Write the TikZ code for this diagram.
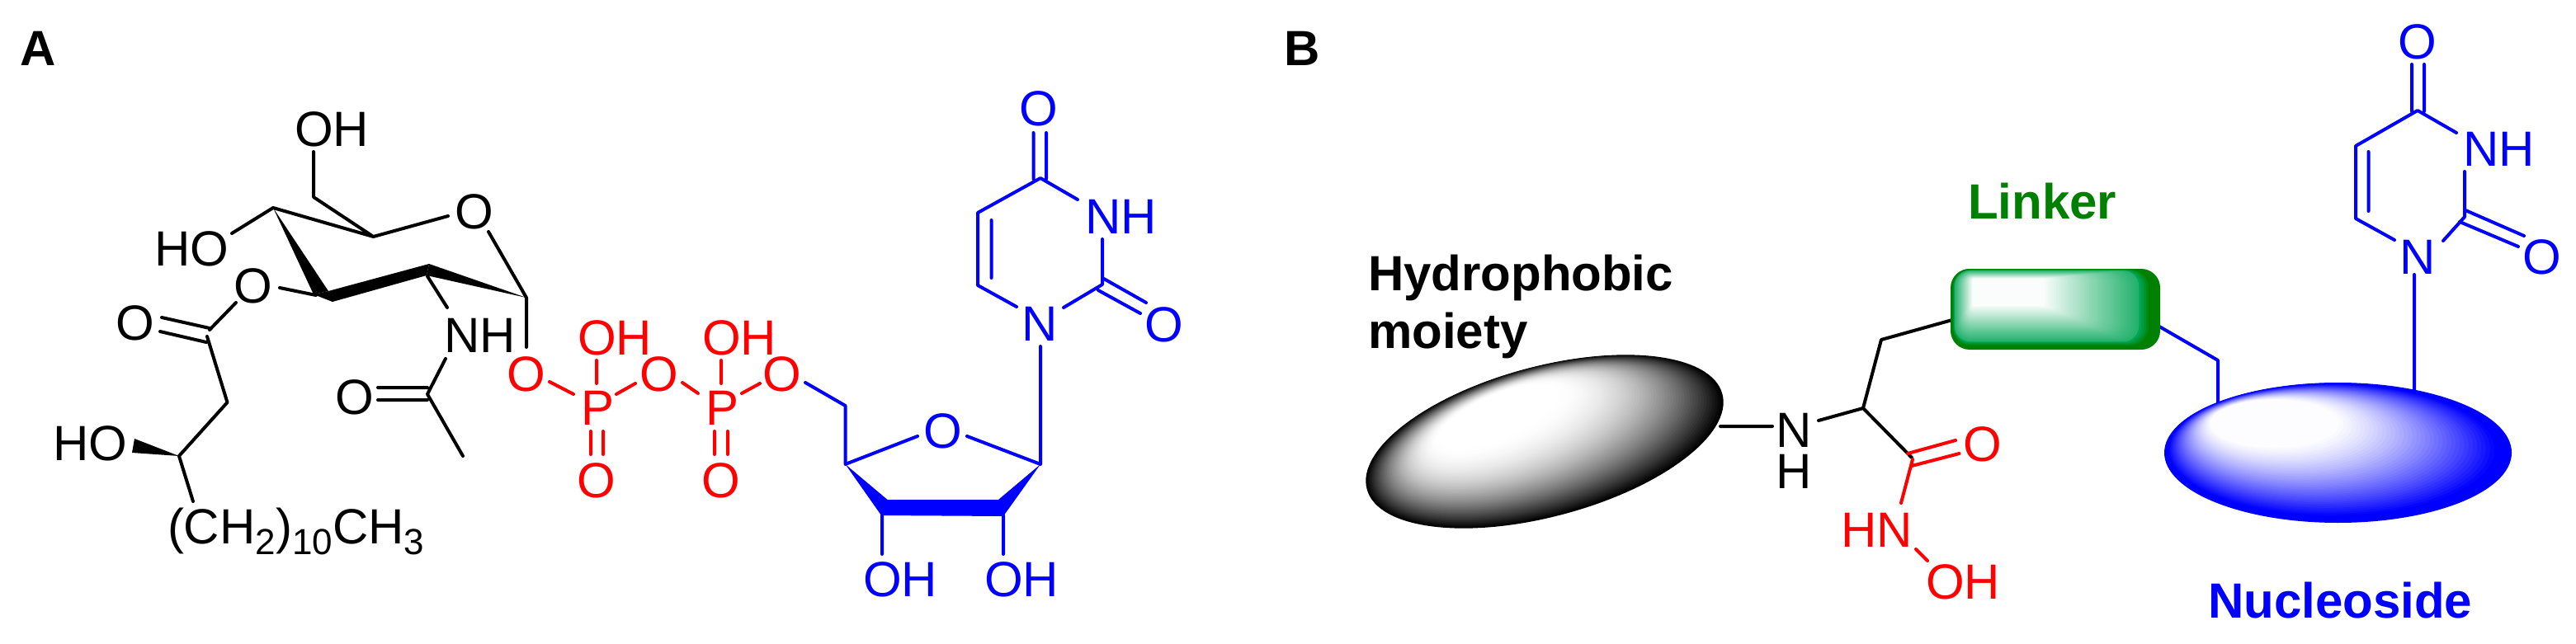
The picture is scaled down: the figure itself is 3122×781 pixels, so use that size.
\documentclass[tikz,border=0pt]{standalone}
\usepackage{fontspec}
\setmainfont{Liberation Sans}
\definecolor{chred}{RGB}{255,0,0}
\definecolor{chblue}{RGB}{0,0,255}
\definecolor{chgreen}{RGB}{0,128,0}
\definecolor{chgreenb}{RGB}{0,165,85}
\newcommand{\subs}[1]{\raisebox{-13pt}{\fontsize{44}{44}\selectfont #1}}
\tikzset{
  atom/.style={inner sep=0pt,outer sep=0pt,anchor=base,font=\fontsize{60}{60}\selectfont},
  atomw/.style={atom,anchor=base west},
  atome/.style={atom,anchor=base east},
  tag/.style={inner sep=0pt,outer sep=0pt,anchor=base west,font=\fontsize{60}{70}\selectfont\bfseries,align=left},
  bond/.style={line width=4pt,line cap=round,line join=round},
}
\begin{document}
\begin{tikzpicture}[x=1pt,y=-1pt]
\useasboundingbox (0,0) rectangle (3122,781);
% ---------- panel labels
\node[tag] (lblA) at (24,80) {A};
\node[tag] (lblB) at (1556,80) {B};
% ---------- A: sugar, black
\coordinate (a1) at (380,184); \coordinate (a2) at (380,239); \coordinate (c5) at (452.5,287);
\coordinate (c4) at (331,252); \coordinate (a3) at (543,262); \coordinate (a4) at (592,281);
\coordinate (c1) at (638,361); \coordinate (a5) at (281,283); \coordinate (a6) at (339,349);
\coordinate (a7) at (383,358); \coordinate (a8) at (286,367); \coordinate (a9) at (254,400);
\coordinate (a10) at (196,385); \coordinate (a11) at (254,398); \coordinate (a12) at (194,402);
\coordinate (a13) at (250,415); \coordinate (a14) at (251,408); \coordinate (a15) at (275.5,488);
\coordinate (a16) at (217,553); \coordinate (a17) at (234,608); \coordinate (a18) at (163,532);
\coordinate (a19) at (160,549); \coordinate (c2a) at (520,320); \coordinate (c2b) at (517,334);
\coordinate (c3a) at (398,353); \coordinate (c3b) at (403,366); \coordinate (c3c) at (380,357);
\coordinate (a20) at (518,335); \coordinate (a21) at (542,373); \coordinate (a22) at (638,421);
\coordinate (a23) at (540,435); \coordinate (a24) at (518,478); \coordinate (a25) at (561,553);
\coordinate (a26) at (458,470); \coordinate (a27) at (518,470); \coordinate (a28) at (458,485);
\coordinate (a29) at (518,485);
\node[atomw] (oh6) at (357,177) {OH};
\node[atom] (o5) at (575,277) {O};
\node[atome] (ho4) at (277,322) {HO};
\node[atom] (o3) at (307,367) {O};
\node[atom] (oc) at (164,412) {O};
\node[atome] (ho3) at (154,558) {HO};
\node[atomw] (chain) at (203,659) {(CH\subs{2})\subs{10}CH\subs{3}};
\node[atomw] (nh) at (538,427) {NH};
\node[atom] (oac) at (430,502) {O};
\draw[bond] (a1)--(a2)--(c5)--(a3) (a4)--(c1) (c4)--(c5) (a5)--(c4) (a6)--(a7) (a8)--(a9)
  (a10)--(a11) (a12)--(a13) (a14)--(a15)--(a16)--(a17) (a20)--(a21) (c1)--(a22)
  (a23)--(a24)--(a25) (a26)--(a27) (a28)--(a29);
\fill (c4)--(c3c)--(c3a)--cycle;
\fill (c3a)--(c2a)--(c2b)--(c3b)--(c3c)--cycle;
\fill (c1)--(c2a)--(c2b)--cycle;
\fill (a16)--(a18)--(a19)--cycle;
% ---------- A: phosphates, red
\begin{scope}[color=chred]
\coordinate (p1) at (723,437); \coordinate (p2) at (723,465); \coordinate (p3) at (666,463);
\coordinate (p4) at (695,478); \coordinate (p5) at (747,478); \coordinate (p6) at (770,465);
\coordinate (p7) at (716,523); \coordinate (p8) at (716,551); \coordinate (p9) at (731,523);
\coordinate (p10) at (731,551);
\coordinate (q1) at (874,437); \coordinate (q2) at (874,465); \coordinate (q3) at (827,464);
\coordinate (q4) at (846,477); \coordinate (q5) at (899,477); \coordinate (q6) at (921,465);
\coordinate (q7) at (866,523); \coordinate (q8) at (866,551); \coordinate (q9) at (882,523);
\coordinate (q10) at (882,551);
\node[atom,text=chred] (op1) at (638,474) {O};
\node[atomw,text=chred] (oh1) at (700,430) {OH};
\node[atom,text=chred] (pa) at (725,515) {P};
\node[atom,text=chred] (opb) at (799,474) {O};
\node[atom,text=chred] (oeq1) at (723,603) {O};
\node[atomw,text=chred] (oh2) at (851,430) {OH};
\node[atom,text=chred] (pb) at (875,515) {P};
\node[atom,text=chred] (op2) at (948,474) {O};
\node[atom,text=chred] (oeq2) at (874,603) {O};
\draw[bond,chred] (p1)--(p2) (p3)--(p4) (p5)--(p6) (p7)--(p8) (p9)--(p10)
  (q1)--(q2) (q3)--(q4) (q5)--(q6) (q7)--(q8) (q9)--(q10);
\end{scope}
% ---------- A: uridine, blue
\coordinate (r1) at (976,464); \coordinate (r2) at (1024.5,492); \coordinate (r3) at (1024.5,563);
\coordinate (r4) at (1112,529); \coordinate (r5) at (1172,529); \coordinate (r6) at (1261,563);
\coordinate (r7) at (1261,420); \coordinate (r8) at (1075.5,606); \coordinate (r9) at (1068,625);
\coordinate (r10) at (1210,606); \coordinate (r11) at (1216,626); \coordinate (r12) at (1069,625);
\coordinate (r13) at (1069,672); \coordinate (r14) at (1216,625); \coordinate (r15) at (1216,672);
\coordinate (u1) at (1252.5,161); \coordinate (u2) at (1252.5,217); \coordinate (u3) at (1268,161);
\coordinate (u4) at (1268,217); \coordinate (u5) at (1261,216); \coordinate (u6) at (1185,258);
\coordinate (u7) at (1185,346); \coordinate (u8) at (1201.5,267); \coordinate (u9) at (1201.5,337);
\coordinate (u10) at (1232,372); \coordinate (u11) at (1306,242); \coordinate (u12) at (1336,290);
\coordinate (u13) at (1336,345); \coordinate (u14) at (1289,373); \coordinate (u15) at (1336,337);
\coordinate (u16) at (1389,367); \coordinate (u17) at (1331,352); \coordinate (u18) at (1382,380);
\node[atom,text=chblue] (or) at (1143,543) {O};
\node[atomw,text=chblue] (ohl) at (1046,723) {OH};
\node[atomw,text=chblue] (ohr) at (1193,723) {OH};
\node[atom,text=chblue] (ou4) at (1259,153) {O};
\node[atomw,text=chblue] (nu3) at (1315,283) {NH};
\node[atom,text=chblue] (ou2) at (1411,414) {O};
\node[atom,text=chblue] (nu1) at (1260,413) {N};
\draw[bond,chblue] (r1)--(r2)--(r3)--(r4) (r5)--(r6)--(r7) (r12)--(r13) (r14)--(r15)
  (u1)--(u2) (u3)--(u4) (u11)--(u5)--(u6)--(u7)--(u10) (u8)--(u9) (u12)--(u13)--(u14)
  (u15)--(u16) (u17)--(u18);
\fill[chblue] (r3)--(r8)--(r10)--(r6)--(r11)--(r9)--cycle;
% ---------- B: connectors
\coordinate (b1) at (2085,517); \coordinate (b2) at (2148,517); \coordinate (b3) at (2204,510);
\coordinate (b4) at (2258,495); \coordinate (b5) at (2280,412); \coordinate (b6) at (2366,388);
\coordinate (b7) at (2317,555); \coordinate (b8) at (2312,550); \coordinate (b9) at (2370,534);
\coordinate (b10) at (2317,565); \coordinate (b11) at (2374.5,550); \coordinate (b12) at (2318,557);
\coordinate (b13) at (2304,610); \coordinate (b14) at (2322,666); \coordinate (b15) at (2336,680);
\coordinate (b16) at (2617,396); \coordinate (b17) at (2688,437); \coordinate (b18) at (2688,490);
\coordinate (b19) at (2926,333); \coordinate (b20) at (2926,476);
\coordinate (v1) at (2923,78); \coordinate (v2) at (2923,135); \coordinate (v3) at (2938,78);
\coordinate (v4) at (2938,135); \coordinate (v5) at (2930,134); \coordinate (v6) at (2855,177);
\coordinate (v7) at (2855,265); \coordinate (v8) at (2870.5,184); \coordinate (v9) at (2870.5,256);
\coordinate (v10) at (2902,291); \coordinate (v11) at (2977,161); \coordinate (v12) at (2987,208);
\coordinate (v13) at (2987,263); \coordinate (v14) at (2961,292); \coordinate (v15) at (2988,255);
\coordinate (v16) at (3059,286); \coordinate (v17) at (2981,269); \coordinate (v18) at (3052,299);
\draw[bond] (b1)--(b2) (b3)--(b4)--(b5)--(b6) (b4)--(b7);
\draw[bond,chred] (b8)--(b9) (b10)--(b11) (b12)--(b13) (b14)--(b15);
\draw[bond,chblue] (b16)--(b17)--(b18) (b19)--(b20) (v1)--(v2) (v3)--(v4)
  (v11)--(v5)--(v6)--(v7)--(v10) (v8)--(v9) (v12)--(v13)--(v14) (v15)--(v16) (v17)--(v18);
% ---------- B: grey ellipse
\foreach \t in {0,...,60}{
  \pgfmathsetmacro\f{\t/61}
  \pgfmathsetmacro\w{min(100,100*(1-pow(1-\f,1.9)))}
  \pgfmathsetmacro\cx{1872+\f*(1815-1872)}
  \pgfmathsetmacro\cy{535.5+\f*(505-535.5)}
  \pgfmathsetmacro\ra{223+\f*(76-223)}
  \pgfmathsetmacro\rb{91+\f*(26-91)}
  \pgfmathsetmacro\ang{15+\f*8}
  \fill[white!\w!black,shift={(\cx,\cy)},rotate=\ang] (0,0) ellipse [x radius=\ra, y radius=\rb];
}
% ---------- B: blue ellipse
\foreach \t in {0,...,40}{
  \pgfmathsetmacro\f{\t/41}
  \pgfmathsetmacro\w{\f<0.08?0:min(100,100*(1-pow(1-(\f-0.08)/0.92,1.3)))}
  \pgfmathsetmacro\cx{2833.5+\f*(2755-2833.5)}
  \pgfmathsetmacro\cy{549+\f*(513-549)}
  \pgfmathsetmacro\ra{210.5+\f*(75-210.5)}
  \pgfmathsetmacro\rb{85+\f*(28-85)}
  \fill[white!\w!chblue,shift={(\cx,\cy)}] (0,0) ellipse [x radius=\ra, y radius=\rb];
}
% ---------- B: green box
\foreach \t in {0,...,49}{
  \pgfmathsetmacro\f{\t/50}
  \pgfmathsetmacro\w{\f<0.16?0:min(100,12+88*(\f-0.16)/0.84)}
  \pgfmathsetmacro\gc{\f<0.08?0:(\f<0.16?min(100,(\f-0.08)/0.08*100):100)}
  \pgfmathsetmacro\xa{2364+\f*(2391-2364)}
  \pgfmathsetmacro\xb{2618+\f*(2475-2618)}
  \pgfmathsetmacro\ya{326+\f*(338-326)}
  \pgfmathsetmacro\yb{424+\f*(370-424)}
  \pgfmathsetmacro\rr{22*(1-\f)+1}
  \fill[white!\w!chgreenb!\gc!chgreen,rounded corners=\rr pt] (\xa,\ya) rectangle (\xb,\yb);
}
% ---------- B: labels
\node[tag] (hyd) at (1658,422) {Hydrophobic\\moiety};
\node[tag,text=chgreen] (lnk) at (2385,265) {Linker};
\node[tag,text=chblue] (nuc) at (2676,749) {Nucleoside};
\node[atom] (nb) at (2174,542) {N};
\node[atom] (hb) at (2174,592) {H};
\node[atom,text=chred] (ob) at (2403,559) {O};
\node[atomw,text=chred] (hnb) at (2231,663) {HN};
\node[atomw,text=chred] (ohb) at (2334,726) {OH};
\node[atom,text=chblue] (ov4) at (2930,72) {O};
\node[atomw,text=chblue] (nv3) at (2985,201) {NH};
\node[atom,text=chblue] (ov2) at (3081,332) {O};
\node[atom,text=chblue] (nv1) at (2930,332) {N};
\end{tikzpicture}
\end{document}
